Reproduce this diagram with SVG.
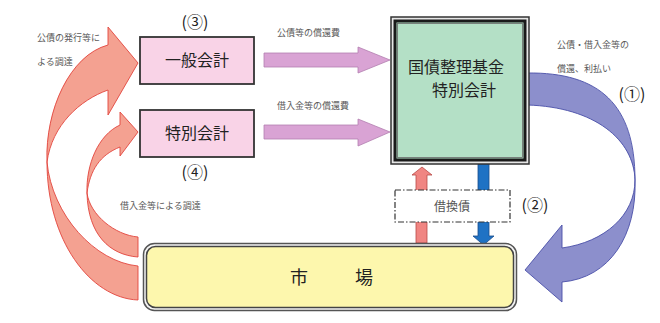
<svg xmlns="http://www.w3.org/2000/svg" width="660" height="323" viewBox="0 0 660 323">
<style>
text { font-family: "Noto Sans CJK JP", "Noto Sans", sans-serif; }
.small { font-size: 9px; fill: #5a5a5a; }
.label { font-size: 16px; fill: #222; }
.num { font-size: 16px; fill: #222; text-anchor: middle; }
.pinkbox { fill: #f9d3e7; stroke: #333; stroke-width: 1.8; }
.pinkarrow { fill: #d9a3d4; stroke: #b37fb0; stroke-width: 0.8; }
.redcurve { fill: #f4a191; stroke: #e2453d; stroke-width: 0.9; }
.bluecurve { fill: #8c8fcc; stroke: #4a4fa8; stroke-width: 0.9; }
</style>
<rect width="660" height="323" fill="#ffffff"/>
<g id="connectors">
  <path class="redcurve" d="M138,266 C95,262 52,215 47,162 C45,110 70,55 108,45 L108,27 L138,63 L108,115 L108,90 C80,100 52,125 47,162 C47,240 90,298 138,300 Z"/>
  <path class="redcurve" d="M138,237 C115,235 90,215 87,193 C86,165 98,135 120,125 L120,112 L138,132 L120,156 L120,147 C100,155 90,170 87,193 C88,235 110,255 138,257 Z"/>
  <path class="bluecurve" d="M527,73 C600,72 635,105 635,180 C635,215 605,242 562,248 L562,225 L525,270 L562,302 L562,282 C610,278 637,235 635,180 C634,140 595,107 527,105 Z"/>
  <path class="pinkarrow" d="M264,53 L358,53 L358,47 L390,60 L358,73 L358,67 L264,67 Z"/>
  <path class="pinkarrow" d="M264,125 L358,125 L358,119 L390,132 L358,146 L358,139 L264,139 Z"/>
  <path d="M416,243 L416,175 L412,175 L422,167 L432,175 L427,175 L427,243 Z" fill="#f08582" stroke="#b84a48" stroke-width="0.8"/>
  <path d="M478,164 L489,164 L489,236 L494,236 L483.5,245 L473,236 L478,236 Z" fill="#1f72c4" stroke="#1a4d8a" stroke-width="0.8"/>
  <text class="small" x="37" y="41">公債の発行等に</text>
  <text class="small" x="37" y="65">よる調達</text>
  <text class="small" x="120" y="209">借入金等による調達</text>
  <text class="small" x="277" y="36">公債等の償還費</text>
  <text class="small" x="277" y="109">借入金等の償還費</text>
  <text class="small" x="557" y="48">公債・借入金等の</text>
  <text class="small" x="557" y="72">償還、利払い</text>
</g>
<g id="node-general">
  <rect class="pinkbox" x="140" y="37" width="114" height="47"/>
  <text class="label" x="197" y="66" text-anchor="middle">一般会計</text>
  <text class="num" x="195" y="28">(③)</text>
</g>
<g id="node-special">
  <rect class="pinkbox" x="140" y="110" width="114" height="47"/>
  <text class="label" x="197" y="139" text-anchor="middle">特別会計</text>
  <text class="num" x="195" y="178">(④)</text>
</g>
<g id="node-fund">
  <rect x="391" y="17" width="138" height="147" fill="#e6e6e6" stroke="#333" stroke-width="1.5"/>
  <rect x="395" y="21" width="130" height="139" fill="#b4e0c6" stroke="#1a1a1a" stroke-width="3"/>
  <rect x="397.5" y="23.5" width="125" height="134" fill="none" stroke="#6a6a6a" stroke-width="0.8"/>
  <text class="label" x="456" y="73" text-anchor="middle">国債整理基金</text>
  <text class="label" x="464" y="96" text-anchor="middle">特別会計</text>
  <text class="num" x="632" y="100">(①)</text>
</g>
<g id="node-refunding">
  <rect x="395" y="190" width="115" height="32" fill="#ffffff" stroke="#333" stroke-width="1.2" stroke-dasharray="6 2 1.5 2"/>
  <text x="452" y="211" text-anchor="middle" font-size="12" fill="#555">借換債</text>
  <text class="num" x="535" y="211">(②)</text>
</g>
<g id="node-market">
  <rect x="143.5" y="243.5" width="373" height="67" rx="11" fill="#f4f4f4" stroke="#555" stroke-width="1.5"/>
  <rect x="146.5" y="246.5" width="367" height="61" rx="9" fill="#fdf7ad" stroke="#444" stroke-width="1.5"/>
  <text x="290" y="284" font-size="18" letter-spacing="3.7" fill="#222">市　　場</text>
</g>
</svg>
